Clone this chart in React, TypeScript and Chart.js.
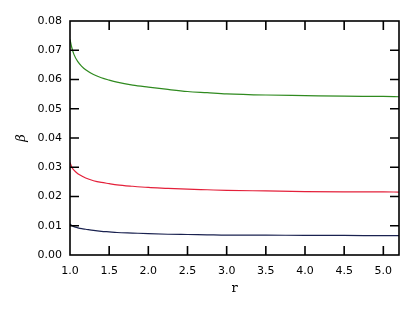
import React, { useEffect, useRef } from "react";
import { Chart, registerables } from "chart.js";

Chart.register(...registerables);

const rValues = [1.0, 1.02, 1.05, 1.1, 1.15, 1.2, 1.3, 1.4, 1.5, 1.6, 1.8, 2.0, 2.25, 2.5, 2.75, 3.0, 3.5, 4.0, 4.5, 5.0, 5.2];
const greenSeries = [0.0737, 0.0712, 0.0686, 0.0661, 0.0645, 0.0633, 0.0617, 0.0606, 0.0598, 0.0591, 0.0581, 0.0574, 0.0566, 0.0559, 0.0555, 0.0551, 0.0547, 0.0545, 0.0543, 0.0542, 0.0541];
const redSeries = [0.0316, 0.0302, 0.029, 0.0278, 0.027, 0.0263, 0.0254, 0.0248, 0.0244, 0.024, 0.0235, 0.0231, 0.0228, 0.0225, 0.0223, 0.0221, 0.0219, 0.0217, 0.0216, 0.0216, 0.0215];
const navySeries = [0.0106, 0.0101, 0.0097, 0.0093, 0.009, 0.0088, 0.0084, 0.0081, 0.0079, 0.0077, 0.0075, 0.0073, 0.0071, 0.007, 0.0069, 0.0068, 0.0068, 0.0067, 0.0067, 0.0066, 0.0066];

const xMin = 1.0;
const xMax = 5.2;
const xStep = 0.5;
const yMin = 0;
const yMax = 0.08;
const yStep = 0.01;
const xTitle = "r";
const yTitle = "β";

const toPoints = (ys: number[]) => rValues.map((x, i) => ({ x, y: ys[i] }));

const framePlugin = {
  id: "frameTicks",
  afterDraw(chart: any) {
    const { ctx, chartArea } = chart;
    const { left, right, top, bottom } = chartArea;
    const xs = chart.scales.x;
    const ys = chart.scales.y;
    const len = 9;
    ctx.save();
    ctx.strokeStyle = "#000";
    ctx.lineWidth = 1.6;
    ctx.beginPath();
    xs.ticks.forEach((t: any) => {
      const px = xs.getPixelForValue(t.value);
      if (px <= left + 1 || px >= right - 1) return;
      ctx.moveTo(px, bottom);
      ctx.lineTo(px, bottom - len);
      ctx.moveTo(px, top);
      ctx.lineTo(px, top + len);
    });
    ys.ticks.forEach((t: any) => {
      const py = ys.getPixelForValue(t.value);
      if (py <= top + 1 || py >= bottom - 1) return;
      ctx.moveTo(left, py);
      ctx.lineTo(left + len, py);
      ctx.moveTo(right, py);
      ctx.lineTo(right - len, py);
    });
    ctx.stroke();
    ctx.strokeRect(left, top, right - left, bottom - top);
    ctx.restore();
  },
};

export default function App() {
  const canvasRef = useRef<HTMLCanvasElement | null>(null);

  useEffect(() => {
    if (!canvasRef.current) return;
    const tickFont = { family: "DejaVu Sans", size: 11 };
    const chart = new Chart(canvasRef.current, {
      type: "line",
      data: {
        datasets: [
          { label: "a", data: toPoints(greenSeries), borderColor: "#2f8a1f", borderWidth: 1.2, pointRadius: 0, cubicInterpolationMode: "monotone", fill: false },
          { label: "b", data: toPoints(redSeries), borderColor: "#e4203a", borderWidth: 1.2, pointRadius: 0, cubicInterpolationMode: "monotone", fill: false },
          { label: "c", data: toPoints(navySeries), borderColor: "#1a2250", borderWidth: 1.2, pointRadius: 0, cubicInterpolationMode: "monotone", fill: false },
        ],
      },
      options: {
        animation: false,
        responsive: true,
        maintainAspectRatio: false,
        layout: { padding: { top: 21, right: 16, left: 0, bottom: 0 } },
        plugins: { legend: { display: false }, tooltip: { enabled: false } },
        scales: {
          x: {
            type: "linear",
            min: xMin,
            max: xMax,
            grid: { display: false },
            border: { display: false },
            ticks: {
              stepSize: xStep,
              includeBounds: false,
              color: "#000",
              font: tickFont,
              padding: 2,
              maxRotation: 0,
              callback: (v: any) => Number(v).toFixed(1),
            },
            title: {
              display: true,
              text: xTitle,
              color: "#000",
              font: { family: "DejaVu Serif", size: 13 },
              padding: { top: 0, bottom: 16 },
            },
            afterFit: (s: any) => {
              s.height = 57;
            },
          },
          y: {
            type: "linear",
            min: yMin,
            max: yMax,
            grid: { display: false },
            border: { display: false },
            ticks: {
              stepSize: yStep,
              includeBounds: false,
              color: "#000",
              font: tickFont,
              padding: 0,
              callback: (v: any) => Number(v).toFixed(2),
            },
            title: {
              display: true,
              text: yTitle,
              color: "#000",
              font: { family: "DejaVu Serif", size: 13, style: "italic" },
              padding: { top: 14, bottom: 0 },
            },
            afterFit: (s: any) => {
              s.width = 70;
            },
          },
        },
      },
      plugins: [framePlugin],
    } as any);
    return () => chart.destroy();
  }, []);

  return (
    <div style={{ position: "absolute", left: 0, top: 0, width: 415, height: 312, background: "#fff" }}>
      <canvas ref={canvasRef} />
    </div>
  );
}
